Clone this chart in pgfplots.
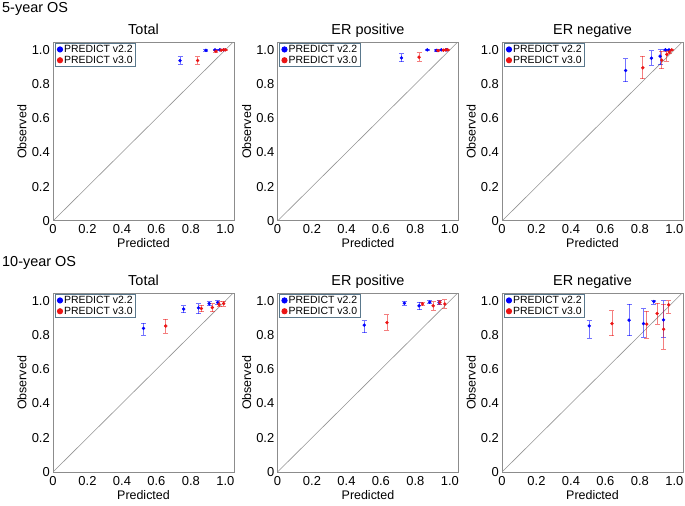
\documentclass[border=0pt]{standalone}
\usepackage{pgfplots}
\usepackage{pgfplotstable}
\pgfplotsset{compat=1.18}
\usepackage{fontspec}
\setmainfont{Liberation Sans}
\definecolor{pblue}{RGB}{0,0,255}
\definecolor{pred}{RGB}{235,20,20}
\definecolor{frame}{RGB}{140,140,140}
\definecolor{legframe}{RGB}{90,120,140}

% 5-year Total
\pgfplotstableread{
x y ep em
0.737 0.937 0.022 0.022
0.887 0.997 0.004 0.004
0.940 1.000 0.003 0.003
0.968 1.000 0.002 0.002
0.990 1.000 0.002 0.002
}\tAb
\pgfplotstableread{
x y ep em
0.839 0.938 0.022 0.022
0.945 0.992 0.006 0.006
0.975 0.998 0.003 0.003
0.990 1.000 0.002 0.002
1.000 1.000 0.002 0.002
}\tAr
% 5-year ER positive
\pgfplotstableread{
x y ep em
0.719 0.953 0.023 0.023
0.869 1.000 0.003 0.003
0.921 0.997 0.004 0.004
0.950 1.000 0.003 0.003
0.979 1.000 0.002 0.002
}\tBb
\pgfplotstableread{
x y ep em
0.821 0.957 0.025 0.025
0.931 0.996 0.004 0.004
0.962 0.998 0.003 0.003
0.975 1.000 0.002 0.002
0.987 1.000 0.002 0.002
}\tBr
% 5-year ER negative
\pgfplotstableread{
x y ep em
0.717 0.879 0.070 0.066
0.867 0.951 0.045 0.042
0.917 0.963 0.037 0.049
0.948 1.000 0.003 0.003
0.969 1.000 0.003 0.003
}\tCb
\pgfplotstableread{
x y ep em
0.817 0.895 0.068 0.064
0.927 0.940 0.052 0.051
0.956 0.973 0.019 0.039
0.971 0.988 0.010 0.010
0.985 1.000 0.003 0.003
}\tCr
% 10-year Total
\pgfplotstableread{
x y ep em
0.525 0.839 0.030 0.039
0.758 0.952 0.020 0.021
0.844 0.959 0.025 0.033
0.906 0.984 0.012 0.012
0.955 0.990 0.010 0.010
}\tDb
\pgfplotstableread{
x y ep em
0.654 0.853 0.040 0.042
0.861 0.955 0.019 0.019
0.924 0.961 0.023 0.025
0.963 0.980 0.015 0.015
0.990 0.984 0.015 0.015
}\tDr
% 10-year ER positive
\pgfplotstableread{
x y ep em
0.503 0.858 0.025 0.043
0.736 0.986 0.010 0.012
0.821 0.971 0.020 0.024
0.883 0.992 0.008 0.008
0.938 0.990 0.012 0.012
}\tEb
\pgfplotstableread{
x y ep em
0.635 0.873 0.045 0.045
0.841 0.982 0.010 0.010
0.903 0.971 0.025 0.027
0.942 0.992 0.010 0.012
0.971 0.982 0.025 0.025
}\tEr
% 10-year ER negative
\pgfplotstableread{
x y ep em
0.506 0.854 0.029 0.074
0.737 0.887 0.094 0.092
0.821 0.867 0.088 0.081
0.881 0.996 0.004 0.015
0.937 0.889 0.111 0.103
}\tFb
\pgfplotstableread{
x y ep em
0.638 0.867 0.075 0.072
0.840 0.864 0.074 0.082
0.900 0.926 0.060 0.062
0.938 0.834 0.147 0.117
0.967 0.977 0.023 0.049
}\tFr

\pgfplotsset{
  every axis title shift=0pt,
  calib/.style={
    scale only axis, width=181bp, height=178bp,
    xmin=0, xmax=1.05, ymin=0, ymax=1.04,
    axis line style={frame, line width=1bp},
    xtick={0,0.2,0.4,0.6,0.8,1}, ytick={0,0.2,0.4,0.6,0.8,1},
    xticklabels={0,0.2,0.4,0.6,0.8,1.0}, yticklabels={0,0.2,0.4,0.6,0.8,1.0},
    major tick length=0pt,
    tick label style={font=\fontsize{13}{13}\selectfont},
    xticklabel style={anchor=base, yshift=-13bp, inner sep=0pt},
    yticklabel style={anchor=east, xshift=-3bp, inner sep=0pt},
    xlabel={Predicted}, ylabel={Observed},
    label style={font=\fontsize{12.5}{12.5}\selectfont},
    xlabel style={at={(axis description cs:0.5,0)}, anchor=base, yshift=-27bp},
    ylabel style={at={(axis description cs:-0.171,0.5)}, anchor=center},
    title style={font=\fontsize{14.5}{14.5}\selectfont, at={(axis description cs:0.5,1)}, anchor=base, yshift=8.7bp},
    legend style={at={(axis description cs:0,1)}, anchor=north west, xshift=1.5bp,
      draw=legframe, line width=0.9bp, fill=white,
      font=\fontsize{10.5}{10.5}\selectfont, inner xsep=2bp, inner ysep=0.6bp,
      nodes={inner sep=1bp}, row sep=0pt},
    legend cell align=left,
    legend image code/.code={\fill[##1] (0bp,0bp) circle (2.6bp);},
  },
  bl/.style={pblue, only marks, mark=*, mark size=1.5bp, forget plot,
    error bars/.cd, y dir=both, y explicit,
    error bar style={pblue, line width=0.9bp, opacity=0.55},
    error mark options={pblue, rotate=90, mark size=2.5bp, line width=0.9bp, opacity=0.55}},
  rd/.style={pred, only marks, mark=*, mark size=1.5bp, forget plot,
    error bars/.cd, y dir=both, y explicit,
    error bar style={pred, line width=0.9bp, opacity=0.55},
    error mark options={pred, rotate=90, mark size=2.5bp, line width=0.9bp, opacity=0.55}},
}
\newcommand{\panel}[4]{%
  \begin{axis}[calib, at={#1}, anchor=south west, title={#2}]
    \addlegendimage{pblue}\addlegendentry{PREDICT v2.2}
    \addlegendimage{pred}\addlegendentry{PREDICT v3.0}
    \addplot[gray!85, line width=0.6bp, forget plot] coordinates {(0,0) (1.05,1.05)};
    \addplot[bl] table[x=x, y=y, y error plus=ep, y error minus=em] {#3};
    \addplot[rd] table[x=x, y=y, y error plus=ep, y error minus=em] {#4};
  \end{axis}}

\begin{document}
\begin{tikzpicture}
\useasboundingbox (0,0) rectangle (685bp,506bp);
\node[anchor=base west, inner sep=0pt, font=\fontsize{14.5}{14.5}\selectfont] at (2bp,493.3bp) {5-year OS};
\node[anchor=base west, inner sep=0pt, font=\fontsize{14.5}{14.5}\selectfont] at (2bp,239.3bp) {10-year OS};
\panel{(53bp,285bp)}{Total}{\tAb}{\tAr}
\panel{(277.5bp,285bp)}{ER positive}{\tBb}{\tBr}
\panel{(502bp,285bp)}{ER negative}{\tCb}{\tCr}
\panel{(53bp,34bp)}{Total}{\tDb}{\tDr}
\panel{(277.5bp,34bp)}{ER positive}{\tEb}{\tEr}
\panel{(502bp,34bp)}{ER negative}{\tFb}{\tFr}
\end{tikzpicture}
\end{document}
